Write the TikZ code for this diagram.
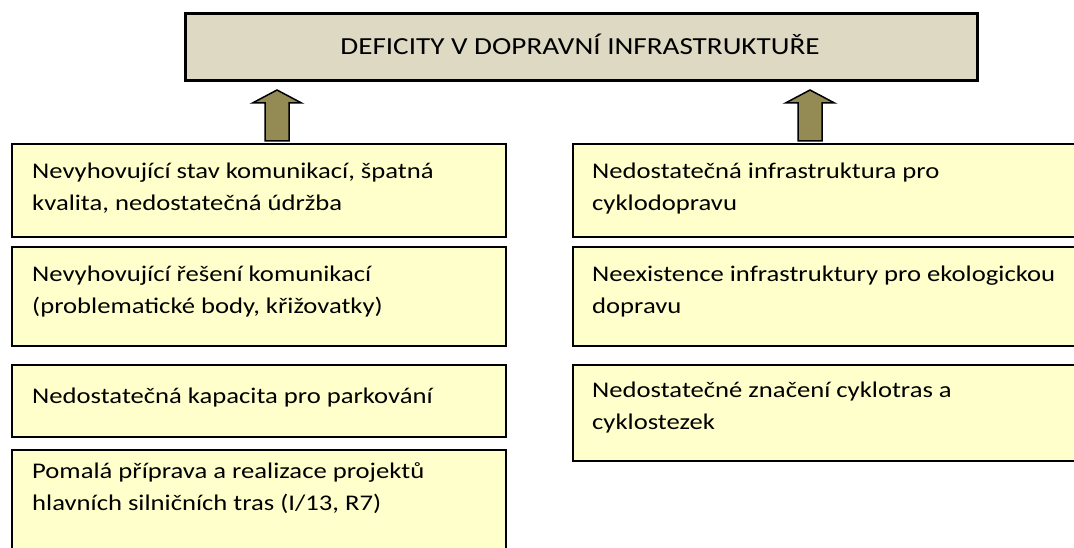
\documentclass[tikz,border=0pt]{standalone}
\usepackage{fontspec}
\setmainfont[FakeStretch=1.19]{Carlito}
\usetikzlibrary{calc}
\definecolor{titlefill}{HTML}{DDD9C3}
\definecolor{boxfill}{HTML}{FFFFCC}
\definecolor{arrowfill}{HTML}{948A54}
\begin{document}
\begin{tikzpicture}[x=1pt,y=-1pt,
  box/.style={draw=black, line width=2pt, fill=boxfill, anchor=north west, inner sep=0pt},
  titlebox/.style={draw=black, line width=2.7pt, fill=titlefill, anchor=north west, inner sep=0pt},
  txt/.style={anchor=base west, inner sep=0pt, align=left, font=\fontsize{22.4}{32}\selectfont},
  titletxt/.style={anchor=base, inner sep=0pt, font=\fontsize{24.5}{30}\selectfont},
  uparrow/.style={draw=black, line width=1.5pt, fill=arrowfill, line join=miter}]
\useasboundingbox (0,0) rectangle (1074,548);
\clip (0,0) rectangle (1074,548);
% title
\node[titlebox, minimum width=792pt, minimum height=67pt] (title) at (184,12) {};
\node[titletxt] (titlet) at (580,55) {DEFICITY V DOPRAVNÍ INFRASTRUKTUŘE};
% left column (text nodes anchored at the baseline of their last line)
\node[box, minimum width=494pt, minimum height=93pt] (l1) at (11,143) {};
\node[txt] (l1t) at (32,211) {Nevyhovující stav komunikací, špatná\\kvalita, nedostatečná údržba};
\node[box, minimum width=494pt, minimum height=99pt] (l2) at (11,246) {};
\node[txt] (l2t) at (32,313) {Nevyhovující řešení komunikací\\(problematické body, křižovatky)};
\node[box, minimum width=494pt, minimum height=72pt] (l3) at (11,364) {};
\node[txt] (l3t) at (32,403) {Nedostatečná kapacita pro parkování};
\node[box, minimum width=494pt, minimum height=120pt] (l4) at (11,449) {};
\node[txt] (l4t) at (32,510) {Pomalá příprava a realizace projektů\\hlavních silničních tras (I/13, R7)};
% right column
\node[box, minimum width=520pt, minimum height=93pt] (r1) at (572,143) {};
\node[txt] (r1t) at (592,211) {Nedostatečná infrastruktura pro\\cyklodopravu};
\node[box, minimum width=520pt, minimum height=99pt] (r2) at (572,246) {};
\node[txt] (r2t) at (592,313) {Neexistence infrastruktury pro ekologickou\\dopravu};
\node[box, minimum width=520pt, minimum height=96pt] (r3) at (572,364) {};
\node[txt] (r3t) at (592,429) {Nedostatečné značení cyklotras a\\cyklostezek};
% arrows
\coordinate (a1) at (l1.north -| 277,0);
\coordinate (a2) at (r1.north -| 810,0);
\foreach \a in {a1,a2}{
  \draw[uparrow] ($(\a)+(-12,-2)$) -- ($(\a)+(-12,-40)$) -- ($(\a)+(-24.5,-40)$)
    -- ($(\a)+(0,-53)$) -- ($(\a)+(24.5,-40)$) -- ($(\a)+(12,-40)$)
    -- ($(\a)+(12,-2)$) -- cycle;
}
\end{tikzpicture}
\end{document}
